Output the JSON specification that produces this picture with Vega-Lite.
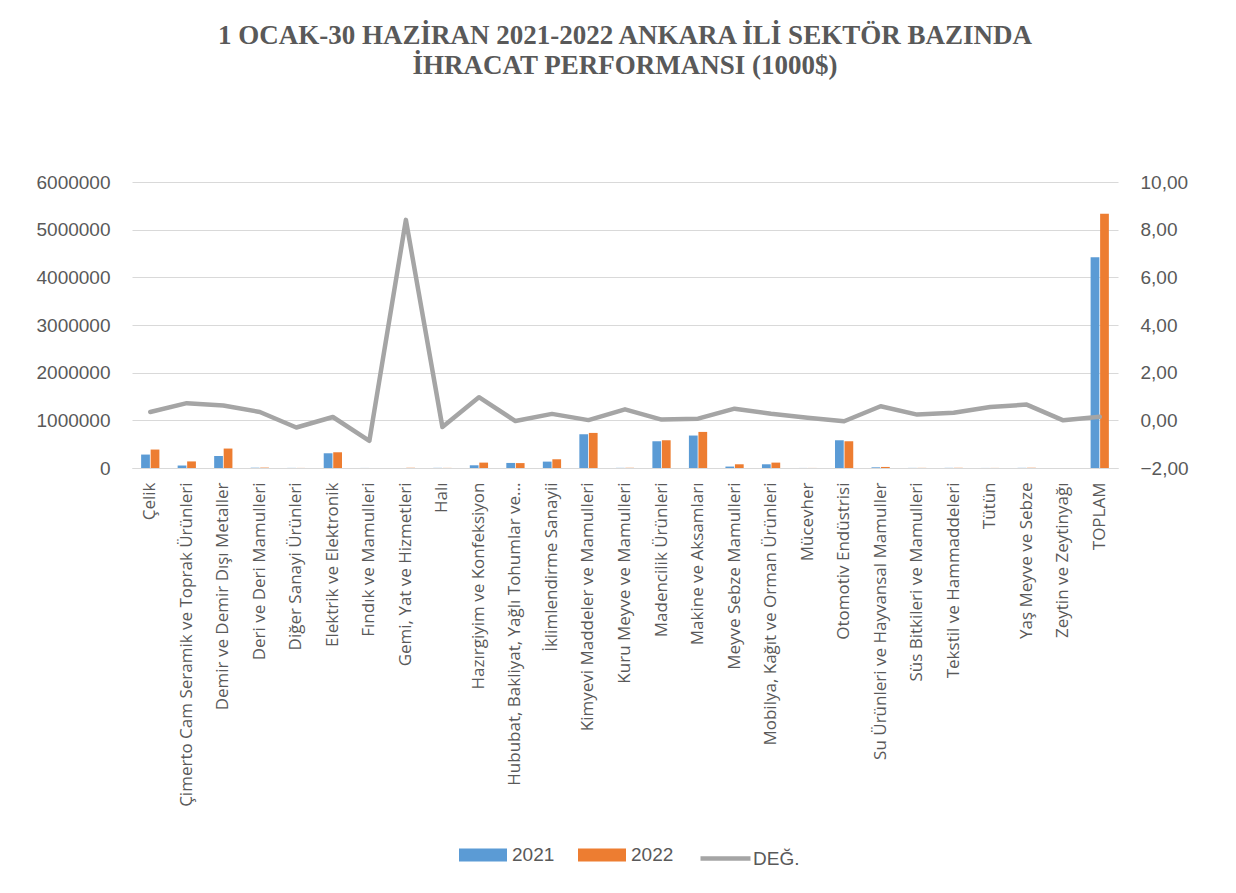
{
  "$schema": "https://vega.github.io/schema/vega-lite/v6.json",
  "width": 986,
  "height": 286,
  "autosize": {"type": "none"},
  "padding": {"left": 132, "top": 182, "right": 118, "bottom": 425},
  "background": "white",
  "config": {"view": {"stroke": null}},
  "title": {
    "text": ["1 OCAK-30 HAZİRAN  2021-2022 ANKARA İLİ SEKTÖR BAZINDA", "İHRACAT  PERFORMANSI (1000$)"],
    "font": "Liberation Serif",
    "fontSize": 27,
    "fontWeight": "bold",
    "color": "#595959",
    "anchor": "middle",
    "offset": 93,
    "lineHeight": 30
  },
  "data": {
    "values": [
      {"sector": "Çelik", "series": "2021", "value": 282000},
      {"sector": "Çelik", "series": "2022", "value": 387000},
      {"sector": "Çelik", "series": "DEĞ.", "value": 0.35},
      {"sector": "Çimerto Cam Seramik ve Toprak Ürünleri", "series": "2021", "value": 52000},
      {"sector": "Çimerto Cam Seramik ve Toprak Ürünleri", "series": "2022", "value": 138000},
      {"sector": "Çimerto Cam Seramik ve Toprak Ürünleri", "series": "DEĞ.", "value": 0.72},
      {"sector": "Demir ve Demir Dışı Metaller", "series": "2021", "value": 252000},
      {"sector": "Demir ve Demir Dışı Metaller", "series": "2022", "value": 408000},
      {"sector": "Demir ve Demir Dışı Metaller", "series": "DEĞ.", "value": 0.62},
      {"sector": "Deri ve Deri Mamulleri", "series": "2021", "value": 6000},
      {"sector": "Deri ve Deri Mamulleri", "series": "2022", "value": 8000},
      {"sector": "Deri ve Deri Mamulleri", "series": "DEĞ.", "value": 0.35},
      {"sector": "Diğer Sanayi Ürünleri", "series": "2021", "value": 2000},
      {"sector": "Diğer Sanayi Ürünleri", "series": "2022", "value": 1400},
      {"sector": "Diğer Sanayi Ürünleri", "series": "DEĞ.", "value": -0.3},
      {"sector": "Elektrik ve Elektronik", "series": "2021", "value": 309000},
      {"sector": "Elektrik ve Elektronik", "series": "2022", "value": 330000},
      {"sector": "Elektrik ve Elektronik", "series": "DEĞ.", "value": 0.14},
      {"sector": "Fındık ve Mamulleri", "series": "2021", "value": 1000},
      {"sector": "Fındık ve Mamulleri", "series": "2022", "value": 150},
      {"sector": "Fındık ve Mamulleri", "series": "DEĞ.", "value": -0.86},
      {"sector": "Gemi, Yat ve Hizmetleri", "series": "2021", "value": 500},
      {"sector": "Gemi, Yat ve Hizmetleri", "series": "2022", "value": 4700},
      {"sector": "Gemi, Yat ve Hizmetleri", "series": "DEĞ.", "value": 8.41},
      {"sector": "Halı", "series": "2021", "value": 3000},
      {"sector": "Halı", "series": "2022", "value": 2150},
      {"sector": "Halı", "series": "DEĞ.", "value": -0.28},
      {"sector": "Hazırgiyim ve Konfeksiyon", "series": "2021", "value": 57000},
      {"sector": "Hazırgiyim ve Konfeksiyon", "series": "2022", "value": 113000},
      {"sector": "Hazırgiyim ve Konfeksiyon", "series": "DEĞ.", "value": 0.97},
      {"sector": "Hububat, Bakliyat, Yağlı Tohumlar ve...", "series": "2021", "value": 106000},
      {"sector": "Hububat, Bakliyat, Yağlı Tohumlar ve...", "series": "2022", "value": 103000},
      {"sector": "Hububat, Bakliyat, Yağlı Tohumlar ve...", "series": "DEĞ.", "value": -0.03},
      {"sector": "İklimlendirme Sanayii", "series": "2021", "value": 134000},
      {"sector": "İklimlendirme Sanayii", "series": "2022", "value": 183000},
      {"sector": "İklimlendirme Sanayii", "series": "DEĞ.", "value": 0.27},
      {"sector": "Kimyevi Maddeler ve Mamulleri", "series": "2021", "value": 708000},
      {"sector": "Kimyevi Maddeler ve Mamulleri", "series": "2022", "value": 736000},
      {"sector": "Kimyevi Maddeler ve Mamulleri", "series": "DEĞ.", "value": 0.01},
      {"sector": "Kuru Meyve ve Mamulleri", "series": "2021", "value": 3000},
      {"sector": "Kuru Meyve ve Mamulleri", "series": "2022", "value": 4400},
      {"sector": "Kuru Meyve ve Mamulleri", "series": "DEĞ.", "value": 0.46},
      {"sector": "Madencilik Ürünleri", "series": "2021", "value": 561000},
      {"sector": "Madencilik Ürünleri", "series": "2022", "value": 582000},
      {"sector": "Madencilik Ürünleri", "series": "DEĞ.", "value": 0.03},
      {"sector": "Makine ve  Aksamları", "series": "2021", "value": 681000},
      {"sector": "Makine ve  Aksamları", "series": "2022", "value": 757000},
      {"sector": "Makine ve  Aksamları", "series": "DEĞ.", "value": 0.07},
      {"sector": "Meyve Sebze Mamulleri", "series": "2021", "value": 30000},
      {"sector": "Meyve Sebze Mamulleri", "series": "2022", "value": 78000},
      {"sector": "Meyve Sebze Mamulleri", "series": "DEĞ.", "value": 0.49},
      {"sector": "Mobilya, Kağıt ve Orman Ürünleri", "series": "2021", "value": 78000},
      {"sector": "Mobilya, Kağıt ve Orman Ürünleri", "series": "2022", "value": 113000},
      {"sector": "Mobilya, Kağıt ve Orman Ürünleri", "series": "DEĞ.", "value": 0.28},
      {"sector": "Mücevher", "series": "2021", "value": 1000},
      {"sector": "Mücevher", "series": "2022", "value": 1100},
      {"sector": "Mücevher", "series": "DEĞ.", "value": 0.11},
      {"sector": "Otomotiv Endüstrisi", "series": "2021", "value": 582000},
      {"sector": "Otomotiv Endüstrisi", "series": "2022", "value": 561000},
      {"sector": "Otomotiv Endüstrisi", "series": "DEĞ.", "value": -0.04},
      {"sector": "Su Ürünleri ve Hayvansal Mamuller", "series": "2021", "value": 14000},
      {"sector": "Su Ürünleri ve Hayvansal Mamuller", "series": "2022", "value": 22000},
      {"sector": "Su Ürünleri ve Hayvansal Mamuller", "series": "DEĞ.", "value": 0.59},
      {"sector": "Süs Bitkileri ve Mamulleri", "series": "2021", "value": 2000},
      {"sector": "Süs Bitkileri ve Mamulleri", "series": "2022", "value": 2500},
      {"sector": "Süs Bitkileri ve Mamulleri", "series": "DEĞ.", "value": 0.24},
      {"sector": "Tekstil ve Hammaddeleri", "series": "2021", "value": 3000},
      {"sector": "Tekstil ve Hammaddeleri", "series": "2022", "value": 4000},
      {"sector": "Tekstil ve Hammaddeleri", "series": "DEĞ.", "value": 0.32},
      {"sector": "Tütün", "series": "2021", "value": 1000},
      {"sector": "Tütün", "series": "2022", "value": 1560},
      {"sector": "Tütün", "series": "DEĞ.", "value": 0.56},
      {"sector": "Yaş Meyve ve Sebze", "series": "2021", "value": 3000},
      {"sector": "Yaş Meyve ve Sebze", "series": "2022", "value": 5000},
      {"sector": "Yaş Meyve ve Sebze", "series": "DEĞ.", "value": 0.66},
      {"sector": "Zeytin ve Zeytinyağı", "series": "2021", "value": 500},
      {"sector": "Zeytin ve Zeytinyağı", "series": "2022", "value": 500},
      {"sector": "Zeytin ve Zeytinyağı", "series": "DEĞ.", "value": 0.0},
      {"sector": "TOPLAM", "series": "2021", "value": 4422000},
      {"sector": "TOPLAM", "series": "2022", "value": 5332000},
      {"sector": "TOPLAM", "series": "DEĞ.", "value": 0.15}
    ]
  },
  "encoding": {
    "x": {
      "field": "sector",
      "type": "nominal",
      "sort": null,
      "scale": {"paddingInner": 0.5, "paddingOuter": 0.25},
      "axis": {
        "title": null,
        "labelAngle": -90,
        "labelFont": "Open Sans",
        "labelFontSize": 17,
        "labelColor": "#595959",
        "labelPadding": 14,
        "labelLimit": 420,
        "ticks": false,
        "domainColor": "#d9d9d9",
        "domainWidth": 1
      }
    }
  },
  "layer": [
    {
      "transform": [{"filter": "datum.series !== 'DEĞ.'"}],
      "mark": {"type": "bar"},
      "encoding": {
        "xOffset": {"field": "series", "type": "nominal", "scale": {"paddingInner": 0.08}},
        "y": {
          "field": "value",
          "type": "quantitative",
          "scale": {"domain": [0, 6000000]},
          "axis": {
            "title": null,
            "values": [0, 1000000, 2000000, 3000000, 4000000, 5000000, 6000000],
            "format": "d",
            "labelFont": "Liberation Sans",
            "labelFontSize": 19,
            "labelColor": "#595959",
            "labelPadding": 22,
            "ticks": false,
            "domain": false,
            "grid": true,
            "gridColor": "#d9d9d9",
            "gridWidth": 1
          }
        },
        "color": {
          "field": "series",
          "type": "nominal",
          "scale": {"domain": ["2021", "2022"], "range": ["#5b9bd5", "#ed7d31"]},
          "legend": {
            "orient": "none",
            "legendX": 327,
            "legendY": 649,
            "direction": "horizontal",
            "title": null,
            "padding": 0,
            "symbolType": "M-1,-0.27H1V0.27H-1Z",
            "symbolSize": 2304,
            "symbolStrokeWidth": 0,
            "labelFont": "Liberation Sans",
            "labelFontSize": 19,
            "labelColor": "#595959",
            "labelOffset": 5,
            "columnPadding": 23
          }
        }
      }
    },
    {
      "transform": [{"filter": "datum.series === 'DEĞ.'"}],
      "mark": {"type": "line", "strokeWidth": 4.5, "strokeCap": "round", "strokeJoin": "round"},
      "encoding": {
        "y": {
          "field": "value",
          "type": "quantitative",
          "scale": {"domain": [-2, 10]},
          "axis": {
            "orient": "right",
            "title": null,
            "values": [-2, 0, 2, 4, 6, 8, 10],
            "labelExpr": "replace(format(datum.value, '.2f'), '.', ',')",
            "labelFont": "Liberation Sans",
            "labelFontSize": 19,
            "labelColor": "#595959",
            "labelPadding": 22,
            "ticks": false,
            "domain": false,
            "grid": false
          }
        },
        "stroke": {
          "field": "series",
          "type": "nominal",
          "scale": {"domain": ["DEĞ."], "range": ["#a5a5a5"]},
          "legend": {
            "orient": "none",
            "legendX": 566,
            "legendY": 649,
            "direction": "horizontal",
            "title": null,
            "padding": 0,
            "symbolType": "stroke",
            "symbolSize": 2500,
            "symbolStrokeWidth": 4.5,
            "labelFont": "Liberation Sans",
            "labelFontSize": 19,
            "labelColor": "#595959",
            "labelOffset": 0
          }
        }
      }
    }
  ],
  "resolve": {"scale": {"y": "independent"}}
}
